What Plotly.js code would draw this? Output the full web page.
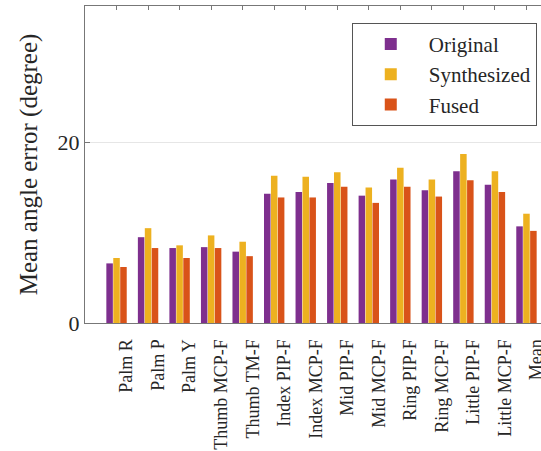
<!DOCTYPE html>
<html>
<head>
<meta charset="utf-8">
<script src="https://cdn.plot.ly/plotly-3.0.1.min.js"></script>
<style>
html,body{margin:0;padding:0;overflow:hidden;background:#fff;width:541px;height:451px;}
svg text{font-family:"Liberation Serif","Times New Roman",Times,serif !important;}
</style>
</head>
<body>
<div id="chart" style="width:600px;height:451px"></div>
<script>
const categories = ["Palm R","Palm P","Palm Y","Thumb MCP-F","Thumb TM-F","Index PIP-F","Index MCP-F","Mid PIP-F","Mid MCP-F","Ring PIP-F","Ring MCP-F","Little PIP-F","Little MCP-F","Mean"];
const original    = [6.6, 9.5, 8.3, 8.4, 7.9, 14.3, 14.5, 15.5, 14.1, 15.9, 14.7, 16.8, 15.3, 10.7];
const synthesized = [7.2, 10.5, 8.6, 9.7, 9.0, 16.3, 16.2, 16.7, 15.0, 17.2, 15.9, 18.7, 16.8, 12.1];
const fused       = [6.2, 8.3, 7.2, 8.3, 7.4, 13.9, 13.9, 15.1, 13.3, 15.1, 14.0, 15.8, 14.5, 10.2];
const yTicks = [0, 20];

function mkBar(name, y, color) {
  return {
    type: "bar", name: name, x: categories, y: y,
    marker: {color: color, line: {width: 0}}
  };
}
const data = [
  mkBar("Original", original, "#7E2F8E"),
  mkBar("Synthesized", synthesized, "#EDB120"),
  mkBar("Fused", fused, "#D95319")
];
const layout = {
  width: 600, height: 451,
  margin: {l: 85, r: 42, t: 6, b: 128},
  paper_bgcolor: "#fff", plot_bgcolor: "#fff",
  barmode: "group", bargap: 0.34, bargroupgap: 0.06,
  font: {family: "Liberation Serif", size: 18, color: "#262626"},
  xaxis: {
    type: "category", range: [-1, 14], layer: "below traces",
    tickangle: -90, tickfont: {size: 18, family: "Liberation Serif", color: "#262626"},
    ticks: "inside", ticklen: 4, tickcolor: "#777",
    showline: true, linecolor: "#777", linewidth: 1, mirror: "ticks",
    showgrid: false, ticklabelshift: 10, ticklabelstandoff: 8
  },
  yaxis: {
    range: [0, 35.1], tickvals: yTicks, ticktext: yTicks.map(String),
    tickfont: {size: 22, family: "Liberation Serif", color: "#262626"},
    ticks: "inside", ticklen: 5, tickcolor: "#777",
    showline: true, linecolor: "#777", linewidth: 1, mirror: true,
    showgrid: true, gridcolor: "#e6e6e6", zeroline: false,
    title: {text: "Mean angle error (degree)", font: {size: 25, family: "Liberation Serif", color: "#262626"}, standoff: 12}
  },
  legend: {
    x: 0.564, y: 0.947, xanchor: "left", yanchor: "top",
    bgcolor: "#fff", bordercolor: "#555", borderwidth: 1,
    font: {size: 21, family: "Liberation Serif", color: "#262626"},
    tracegroupgap: 0, itemwidth: 66
  },
  showlegend: true
};
Plotly.newPlot("chart", data, layout, {displayModeBar: false});
</script>
</body>
</html>
